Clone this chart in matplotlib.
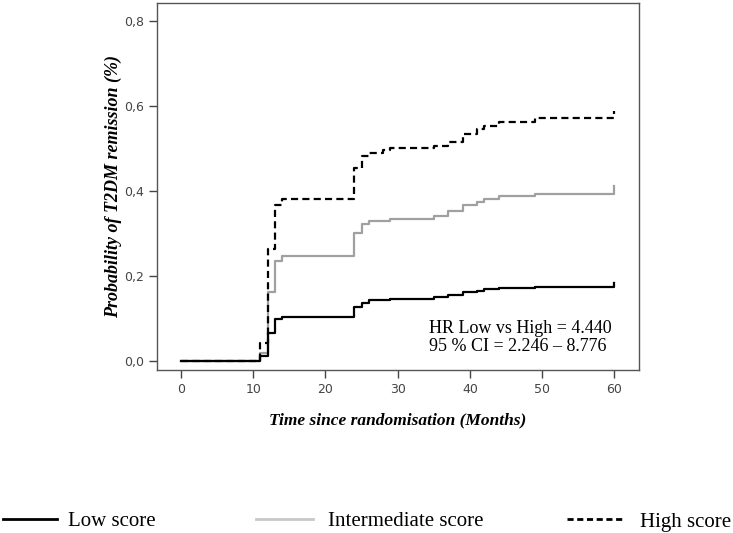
import matplotlib
matplotlib.use('Agg')
from matplotlib import pyplot
from matplotlib.lines import Line2D

# Kaplan-Meier style cumulative remission curves (step at given month)
low_months = [0, 11, 12, 13, 14, 24, 25, 26, 29, 35, 37, 39, 41, 42, 44, 49, 60]
low_prob = [0, 0.012, 0.067, 0.098, 0.104, 0.128, 0.137, 0.143, 0.147, 0.150,
            0.155, 0.162, 0.165, 0.169, 0.171, 0.175, 0.183]

mid_months = [0, 11, 12, 13, 14, 24, 25, 26, 29, 35, 37, 39, 41, 42, 44, 49, 60]
mid_prob = [0, 0.02, 0.163, 0.235, 0.247, 0.300, 0.322, 0.329, 0.334, 0.342,
            0.354, 0.366, 0.374, 0.380, 0.387, 0.393, 0.412]

high_months = [0, 11, 12, 13, 14, 24, 25, 26, 28, 29, 35, 37, 39, 41, 42, 44, 49, 60]
high_prob = [0, 0.043, 0.263, 0.367, 0.381, 0.453, 0.483, 0.490, 0.496, 0.500,
             0.506, 0.516, 0.534, 0.545, 0.553, 0.563, 0.572, 0.587]

y_ticks = [0.0, 0.2, 0.4, 0.6, 0.8]
y_tick_labels = ['0,0', '0,2', '0,4', '0,6', '0,8']
x_ticks = [0, 10, 20, 30, 40, 50, 60]

legend_labels = ['Low score', 'Intermediate score', 'High score']
hr_text = 'HR Low vs High = 4.440\n95 % CI = 2.246 \u2013 8.776'

serif = ['Liberation Serif', 'DejaVu Serif']

fig = pyplot.figure(figsize=(7.33, 5.33), dpi=100)
ax = fig.add_axes([157 / 733, 1 - 370 / 533, (639 - 157) / 733, (370 - 3) / 533])

ax.step(mid_months, mid_prob, where='post', color='#a0a0a0', lw=1.6)
ax.step(low_months, low_prob, where='post', color='black', lw=1.6)
ax.step(high_months, high_prob, where='post', color='black', lw=1.6,
        linestyle=(0, (3.2, 1.9)))

ax.set_xlim(-3.3, 63.4)
ax.set_ylim(-0.021, 0.842)
ax.set_xticks(x_ticks)
ax.set_yticks(y_ticks)
ax.set_yticklabels(y_tick_labels)
ax.tick_params(direction='out', length=6, width=1, color='#444444',
               labelcolor='#444444', labelsize=9)
for spine in ax.spines.values():
    spine.set_color('#555555')
    spine.set_linewidth(1)

ax.set_ylabel('Probability of T2DM remission (%)', family=serif, style='italic',
              weight='bold', fontsize=13, labelpad=1)
ax.set_xlabel('Time since randomisation (Months)', family=serif, style='italic',
              weight='bold', fontsize=12.5, labelpad=12)

ax.text(0.565, 0.04, hr_text, transform=ax.transAxes, family=serif,
        fontsize=13, linespacing=1.1, va='bottom', ha='left')

# legend drawn below the plot area
legend_y = 1 - 522 / 533
entries = [
    (3, 57, 68, dict(color='black', lw=2)),
    (256, 313, 328, dict(color='#c8c8c8', lw=2)),
    (567, 624, 640, dict(color='black', lw=2, linestyle=(0, (2.2, 1.3)))),
]
for (x0, x1, xt, style), label in zip(entries, legend_labels):
    fig.add_artist(Line2D([x0 / 733, x1 / 733], [legend_y + 0.006, legend_y + 0.006],
                          transform=fig.transFigure, **style))
    fig.text(xt / 733, legend_y, label, family=serif, fontsize=15, va='center', ha='left')

fig.savefig('out.png', dpi=100)
